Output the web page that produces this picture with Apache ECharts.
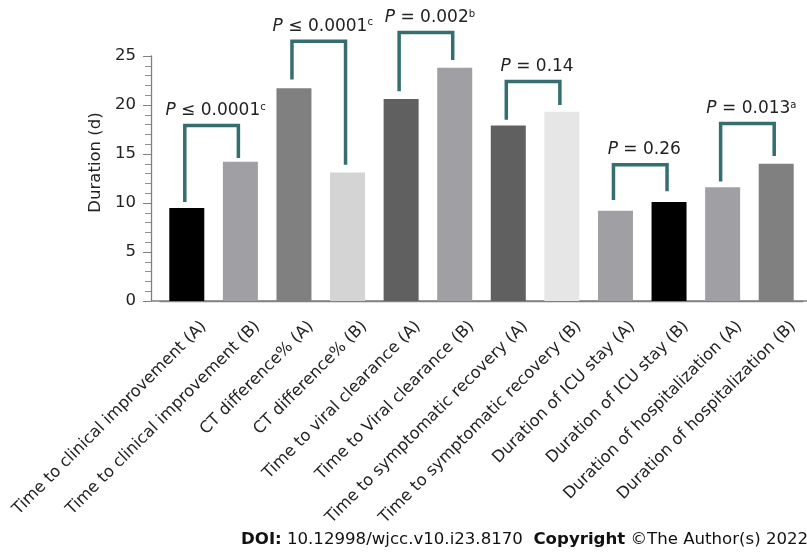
<!DOCTYPE html>
<html>
<head>
<meta charset="utf-8">
<script src="https://cdn.jsdelivr.net/npm/echarts@6/dist/echarts.min.js"></script>
<style>html,body{margin:0;padding:0;background:#fff}#c{width:807px;height:560px}</style>
</head>
<body>
<div id="c"></div>
<script>
var categories = [
  'Time to clinical improvement (A)', 'Time to clinical improvement (B)',
  'CT difference% (A)', 'CT difference% (B)',
  'Time to viral clearance (A)', 'Time to Viral clearance (B)',
  'Time to symptomatic recovery (A)', 'Time to symptomatic recovery (B)',
  'Duration of ICU stay (A)', 'Duration of ICU stay (B)',
  'Duration of hospitalization (A)', 'Duration of hospitalization (B)'
];
var durations = [9.5, 14.2, 21.7, 13.1, 20.6, 23.8, 17.9, 19.3, 9.2, 10.1, 11.6, 14.0];
var barColors = ['#000000', '#a0a0a4', '#808080', '#d4d4d4', '#606060', '#a0a0a4',
                 '#606060', '#e6e6e6', '#a0a0a4', '#000000', '#a0a0a4', '#808080'];
var yTicks = [0, 5, 10, 15, 20, 25];

// comparison brackets: left bar index, right bar index, leg bottoms and top height
var bracketLeft = [0, 2, 4, 6, 8, 10];
var bracketRight = [1, 3, 5, 7, 9, 11];
var bracketLeftBottom = [10.1, 22.6, 21.4, 18.5, 10.3, 12.2];
var bracketRightBottom = [14.6, 13.9, 24.6, 20.0, 11.2, 14.8];
var bracketTop = [17.9, 26.5, 27.4, 22.4, 13.9, 18.1];
var pLabels = [
  '{i|P} ≤ 0.0001{s|c}', '{i|P} ≤ 0.0001{s|c}', '{i|P} = 0.002{s|b}',
  '{i|P} = 0.14', '{i|P} = 0.26', '{i|P} = 0.013{s|a}'
];

var FONT = 'DejaVu Sans, Verdana, sans-serif';
var chart = echarts.init(document.getElementById('c'));

var bracketData = bracketLeft.map(function (a, k) {
  return [a, bracketRight[k], bracketLeftBottom[k], bracketRightBottom[k], bracketTop[k], k];
});

chart.setOption({
  animation: false,
  title: {
    text: '{b|DOI:} 10.12998/wjcc.v10.i23.8170  {b|Copyright} ©The Author(s) 2022',
    left: 241, top: 531,
    padding: 0,
    textStyle: {
      fontFamily: FONT, fontSize: 16.6, fontWeight: 'normal', color: '#111',
      rich: { b: { fontFamily: FONT, fontSize: 16.6, fontWeight: 'bold', color: '#111' } }
    }
  },
  grid: { left: 160, right: 4, top: 56, bottom: 259, containLabel: false, outerBoundsMode: 'none' },
  xAxis: {
    type: 'category',
    data: categories,
    axisLine: { lineStyle: { color: '#808080', width: 1.3 } },
    axisTick: { alignWithLabel: true, length: 7, lineStyle: { color: '#808080' } },
    axisLabel: {
      rotate: 45, interval: 0, margin: 6,
      fontFamily: FONT, fontSize: 16.3, color: '#222',
      verticalAlign: 'top', lineHeight: 48
    }
  },
  yAxis: {
    type: 'value', min: 0, max: 25, interval: 5, offset: 9,
    name: 'Duration (d)', nameLocation: 'middle', nameGap: 44,
    nameTextStyle: { fontFamily: FONT, fontSize: 16.5, color: '#222', padding: [0, 0, 0, 32] },
    axisLine: { show: true, lineStyle: { color: '#808080', width: 1.3 } },
    axisTick: { show: true, length: 8, lineStyle: { color: '#808080' } },
    minorTick: { show: true, splitNumber: 5, length: 6, lineStyle: { color: '#909090' } },
    splitLine: { show: false },
    axisLabel: {
      fontFamily: FONT, fontSize: 16.5, color: '#222', margin: 15,
      formatter: function (v) { return yTicks.indexOf(v) >= 0 ? String(v) : ''; }
    }
  },
  series: [
    {
      type: 'bar',
      barWidth: 35,
      data: durations.map(function (v, i) {
        return { value: v, itemStyle: { color: barColors[i] } };
      })
    },
    {
      type: 'custom',
      clip: false,
      encode: { x: [0, 1], y: [2, 3, 4] },
      data: bracketData,
      renderItem: function (params, api) {
        var a = api.value(0), b = api.value(1);
        var p1 = api.coord([a, api.value(2)]);
        var p2 = api.coord([a, api.value(4)]);
        var p3 = api.coord([b, api.value(4)]);
        var p4 = api.coord([b, api.value(3)]);
        var dx = -2;
        return {
          type: 'group',
          children: [
            {
              type: 'polyline',
              shape: { points: [[p1[0] + dx, p1[1]], [p2[0] + dx, p2[1]], [p3[0] + dx, p3[1]], [p4[0] + dx, p4[1]]] },
              style: { stroke: '#356e6e', lineWidth: 3.5, fill: null, lineJoin: 'miter' }
            },
            {
              type: 'text',
              style: {
                text: pLabels[api.value(5)],
                x: (p2[0] + p3[0]) / 2 + 2, y: p2[1] - 15,
                align: 'center', verticalAlign: 'middle',
                fontFamily: FONT, fontSize: 17, fill: '#222',
                rich: {
                  i: { fontFamily: FONT, fontSize: 17, fontStyle: 'italic', fill: '#222' },
                  s: { fontFamily: FONT, fontSize: 10, fill: '#222', verticalAlign: 'bottom', padding: [0, 0, 7, 0] }
                }
              }
            }
          ]
        };
      }
    }
  ]
});

// extend the category axis line to meet the offset value axis and the right edge
var rect = chart.getModel().getComponent('grid').coordinateSystem.getRect();
var y0 = chart.convertToPixel({ yAxisIndex: 0 }, 0);
chart.setOption({
  graphic: [{
    type: 'line', silent: true, z: 1,
    shape: { x1: rect.x - 9, y1: y0, x2: rect.x + rect.width + 4, y2: y0 },
    style: { stroke: '#808080', lineWidth: 1.3 }
  }]
});
</script>
</body>
</html>
